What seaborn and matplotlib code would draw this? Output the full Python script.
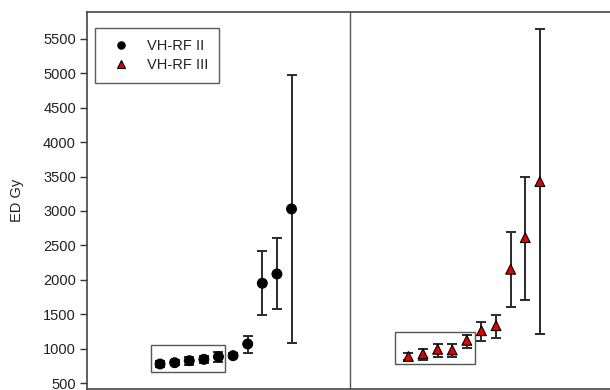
import numpy as np
import pandas as pd
import matplotlib
matplotlib.use("Agg")
import matplotlib.pyplot as plt
import seaborn as sns
from matplotlib.patches import Rectangle

sns.set_theme(style="white")
plt.rcParams['font.family'] = ['Liberation Sans', 'DejaVu Sans']

# Data (ED in Gy) for the two groups, ordered by rank
rank = list(range(1, 11))
ii_ed = [776, 795, 824, 844, 882, 897, 1067, 1949, 2084, 3029]
ii_lo = [736, 760, 764, 796, 812, 862, 940, 1488, 1571, 1077]
ii_hi = [816, 830, 882, 892, 950, 932, 1183, 2423, 2603, 4981]

iii_ed = [885, 925, 990, 980, 1120, 1260, 1333, 2153, 2612, 3426]
iii_lo = [834, 834, 882, 882, 1004, 1110, 1158, 1600, 1706, 1212]
iii_hi = [940, 994, 1067, 1060, 1198, 1391, 1493, 2699, 3497, 5645]

series_names = ["VH-RF II", "VH-RF III"]
y_ticks = [500, 1000, 1500, 2000, 2500, 3000, 3500, 4000, 4500, 5000, 5500]

offset_ii = 4
offset_iii = 21

df = pd.DataFrame({
    "x": [r + offset_ii for r in rank] + [r + offset_iii for r in rank],
    "ED": ii_ed + iii_ed,
    "lo": ii_lo + iii_lo,
    "hi": ii_hi + iii_hi,
    "group": [series_names[0]] * 10 + [series_names[1]] * 10,
})

fig = plt.figure(figsize=(6.1, 3.9), dpi=100)
ax = fig.add_axes([87/610, 1/390, 1 - 87/610, 377/390])

for g, sub in df.groupby("group"):
    ax.errorbar(sub["x"], sub["ED"],
                yerr=[sub["ED"] - sub["lo"], sub["hi"] - sub["ED"]],
                fmt="none", ecolor="#2a2a2a", elinewidth=1.4,
                capsize=3.8, capthick=1.4, zorder=2)

sns.scatterplot(data=df, x="x", y="ED", hue="group", style="group",
                palette={series_names[0]: "black", series_names[1]: "#e00000"},
                markers={series_names[0]: "o", series_names[1]: "^"},
                s=50, edgecolor="black", linewidth=0.8, zorder=3, ax=ax)

# rectangles around the low-dose clusters
ax.add_patch(Rectangle((4.4, 655), 5.07, 397, fill=False,
                       edgecolor="#555555", linewidth=1.0, zorder=1))
ax.add_patch(Rectangle((21.05, 780), 5.52, 466, fill=False,
                       edgecolor="#555555", linewidth=1.0, zorder=1))

ax.axvline(18, color="#555555", linewidth=1.0, zorder=1)

ax.set_xlim(0, 35.8)
ax.set_ylim(413, 5890)
ax.set_yticks(y_ticks)
ax.set_xticks([])
ax.set_xlabel("")
ax.set_ylabel("ED Gy", fontsize=10.5, color="#222222", labelpad=14)
ax.tick_params(axis="y", direction="out", length=5, width=1, color="#333333",
               labelsize=10.5, labelcolor="#222222", left=True, pad=3)

for side in ["left", "top", "bottom"]:
    ax.spines[side].set_color("#444444")
    ax.spines[side].set_linewidth(1.2)
ax.spines["right"].set_visible(False)

leg = ax.legend(loc="upper left", bbox_to_anchor=(0.016, 0.957), frameon=True,
                fancybox=False, edgecolor="#333333", fontsize=10.5,
                handletextpad=0.8, borderpad=0.75, labelspacing=0.35,
                handlelength=2.0, markerscale=0.75, title=None, borderaxespad=0)
leg.get_frame().set_linewidth(1.0)
for t in leg.get_texts():
    t.set_color("#222222")

fig.savefig("out.png", dpi=100)
